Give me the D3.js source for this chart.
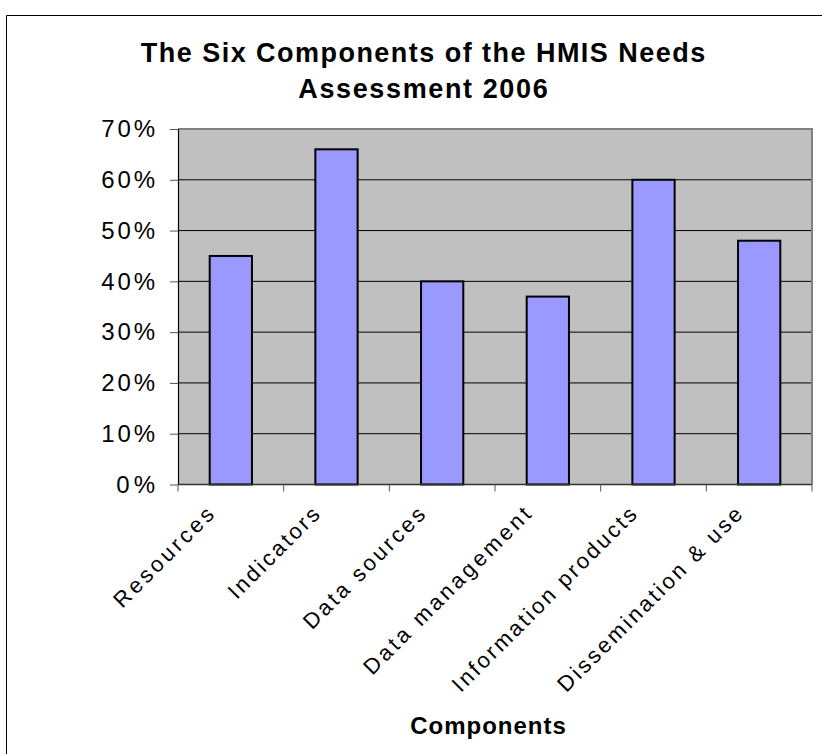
<!DOCTYPE html>
<html>
<head>
<meta charset="utf-8">
<script src="https://cdn.jsdelivr.net/npm/d3@7"></script>
<style>
  html, body { margin: 0; padding: 0; background: #fff; }
  svg { display: block; }
  text { font-family: "Liberation Sans", Arial, sans-serif; fill: #000; }
</style>
</head>
<body>
<svg id="chart" width="822" height="754"></svg>
<script>
// Chart data
const categories = ["Resources", "Indicators", "Data sources", "Data management", "Information products", "Dissemination & use"];
const values = [0.45, 0.66, 0.40, 0.37, 0.60, 0.48];
const yTicks = [0, 0.1, 0.2, 0.3, 0.4, 0.5, 0.6, 0.7];
const titleLines = ["The Six Components of the HMIS Needs", "Assessment 2006"];
const xAxisTitle = "Components";

const svg = d3.select("#chart");

// Plot area
const plot = { left: 178, right: 812, top: 129, bottom: 484.5 };

const x = d3.scaleBand()
  .domain(categories)
  .range([plot.left, plot.right])
  .paddingInner(0.6)
  .paddingOuter(0.3);

const y = d3.scaleLinear()
  .domain([0, 0.7])
  .range([plot.bottom, plot.top]);

// Widen a text element's spacing by a factor of its natural length
function stretch(sel, factor) {
  sel.each(function () {
    const w = this.getComputedTextLength();
    d3.select(this).attr("textLength", w * factor).attr("lengthAdjust", "spacing");
  });
}

// Outer chart frame (runs off the right and bottom edges)
svg.append("path")
  .attr("d", "M6.5,760 V15.5 H830")
  .attr("fill", "none")
  .attr("stroke", "#000")
  .attr("stroke-width", 1);

// Plot background
svg.append("rect")
  .attr("x", plot.left).attr("y", plot.top)
  .attr("width", plot.right - plot.left)
  .attr("height", plot.bottom - plot.top)
  .attr("fill", "#c0c0c0");

// Gridlines
svg.append("g")
  .selectAll("line")
  .data(yTicks.slice(1, -1))
  .join("line")
  .attr("x1", plot.left).attr("x2", plot.right)
  .attr("y1", d => y(d)).attr("y2", d => y(d))
  .attr("stroke", "#000").attr("stroke-width", 1);

// Top and right plot border
svg.append("path")
  .attr("d", `M${plot.left},${y(0.7)} H${plot.right} V${plot.bottom}`)
  .attr("fill", "none")
  .attr("stroke", "#808080")
  .attr("stroke-width", 2);

// Bars
svg.append("g")
  .selectAll("rect")
  .data(values)
  .join("rect")
  .attr("x", (d, i) => x(categories[i]))
  .attr("y", d => y(d))
  .attr("width", x.bandwidth())
  .attr("height", d => y(0) - y(d))
  .attr("fill", "#9999ff")
  .attr("stroke", "#000")
  .attr("stroke-width", 2);

// Y axis
const yAxis = d3.axisLeft(y)
  .tickValues(yTicks)
  .tickFormat(d3.format(".0%"))
  .tickSizeInner(8)
  .tickSizeOuter(0)
  .tickPadding(15);

const yAxisG = svg.append("g")
  .attr("transform", `translate(${plot.left},0)`)
  .call(yAxis);
yAxisG.select(".domain").attr("stroke", "#000").attr("stroke-width", 1.2);
yAxisG.selectAll(".tick line").attr("stroke", "#555");
yAxisG.selectAll(".tick text")
  .attr("font-size", 24)
  .attr("font-family", "'Liberation Sans', Arial, sans-serif")
  .attr("fill", "#000")
  .call(stretch, 1.12);

// X axis: ticks on category boundaries
const bounds = d3.range(categories.length + 1).map(i => plot.left + i * x.step());
const xAxisG = svg.append("g");
xAxisG.append("line")
  .attr("x1", plot.left).attr("x2", plot.right)
  .attr("y1", plot.bottom).attr("y2", plot.bottom)
  .attr("stroke", "#333").attr("stroke-width", 1.5);
xAxisG.selectAll("line.tick")
  .data(bounds)
  .join("line")
  .attr("class", "tick")
  .attr("x1", d => d).attr("x2", d => d)
  .attr("y1", plot.bottom).attr("y2", plot.bottom + 7)
  .attr("stroke", "#555").attr("stroke-width", 1);

// Rotated category labels
xAxisG.selectAll("text")
  .data(categories)
  .join("text")
  .attr("transform", d => `translate(${x(d) + x.bandwidth() / 2 - 21},${plot.bottom + 26}) rotate(-45)`)
  .attr("text-anchor", "end")
  .attr("dy", "0.35em")
  .attr("font-size", 22)
  .text(d => d)
  .call(stretch, 1.25);

// Title
svg.append("g")
  .selectAll("text")
  .data(titleLines)
  .join("text")
  .attr("x", 423)
  .attr("y", (d, i) => 62 + i * 35.6)
  .attr("text-anchor", "middle")
  .attr("font-size", 27)
  .attr("font-weight", "bold")
  .text(d => d)
  .call(stretch, 1.1);

// X axis title
svg.append("text")
  .attr("x", 488)
  .attr("y", 734)
  .attr("text-anchor", "middle")
  .attr("font-size", 24)
  .attr("font-weight", "bold")
  .text(xAxisTitle)
  .call(stretch, 1.06);
</script>
</body>
</html>
